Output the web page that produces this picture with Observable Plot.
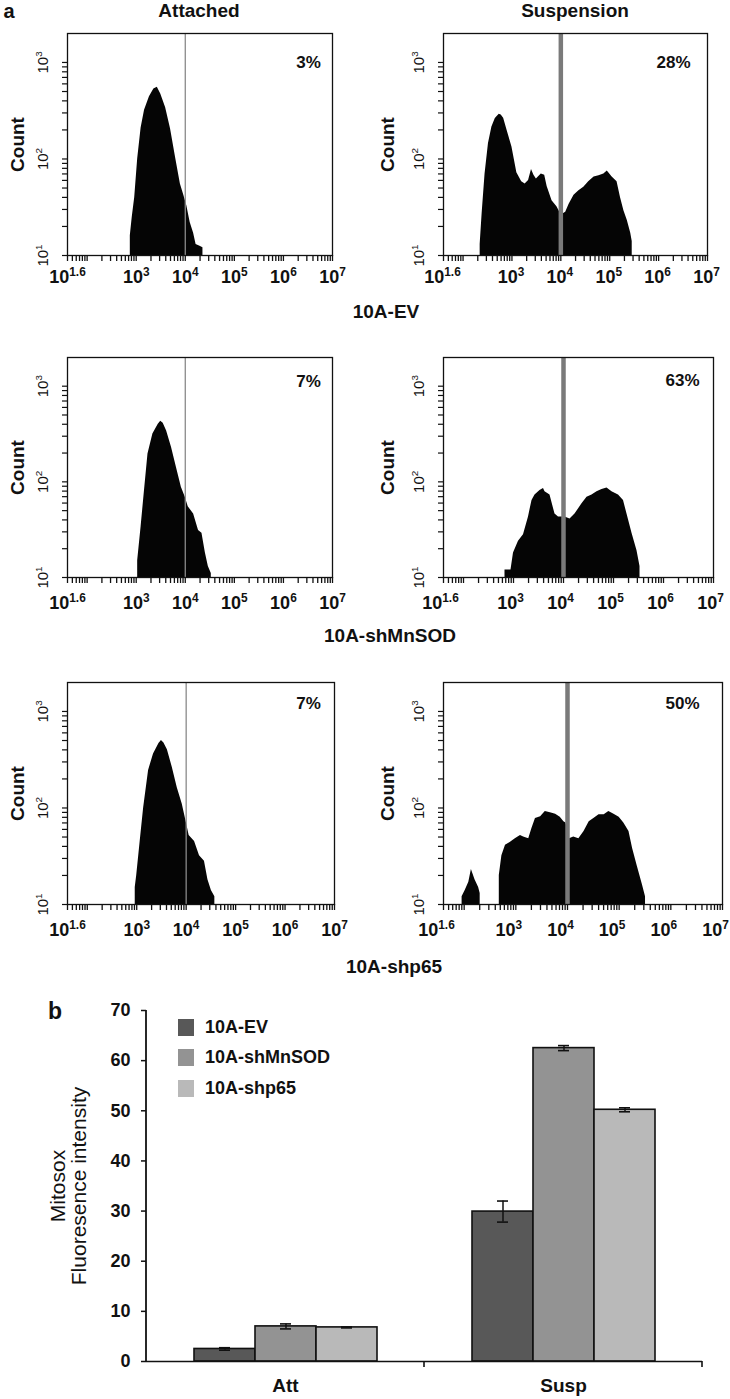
<!DOCTYPE html>
<html>
<head>
<meta charset="utf-8">
<script src="https://cdn.jsdelivr.net/npm/d3@7"></script>
<script src="https://cdn.jsdelivr.net/npm/@observablehq/plot@0.6"></script>
<style>
  html, body { margin: 0; padding: 0; background: #fff; }
  #page { position: relative; width: 730px; height: 1399px; overflow: hidden; font-family: "Liberation Sans", Arial, sans-serif; color: #111; }
  .abs { position: absolute; }
  .lbl { position: absolute; transform: translate(-50%, -50%); white-space: nowrap; font-weight: bold; line-height: 1; }
  .legrow { display: flex; align-items: center; height: 30.5px; font-size: 18px; font-weight: bold; }
  .legrow span.sw { display: inline-block; width: 16px; height: 17px; margin-right: 11px; }
</style>
</head>
<body>
<div id="page"></div>
<script>
// ---------------- DATA ----------------
const colTitles = ["Attached", "Suspension"];
const rowLabels = ["10A-EV", "10A-shMnSOD", "10A-shp65"];
const pctLabels = ["3%", "28%", "7%", "63%", "7%", "50%"];

// x ticks (intensity, log scale) and labels
const xMajorTicks = [Math.pow(10, 1.6), 1e3, 1e4, 1e5, 1e6, 1e7];
const xTickLabels = ["10^1.6", "10^3", "10^4", "10^5", "10^6", "10^7"];
const yMajorTicks = [10, 100, 1000];
const yTickLabels = ["10^1", "10^2", "10^3"];

// Histograms: log10(intensity) and counts
const attEV_logX  = [2.88, 2.88, 2.92, 2.97, 3.03, 3.10, 3.17, 3.27, 3.36, 3.43, 3.50, 3.60, 3.70, 3.80, 3.90, 3.97, 4.03, 4.10, 4.17, 4.22, 4.30, 4.36, 4.36];
const attEV_count = [10, 16, 25, 40, 100, 210, 320, 440, 530, 555, 470, 340, 205, 105, 55, 42, 33, 22, 17, 13, 12.5, 12, 10];

const suspEV_logX  = [2.35, 2.35, 2.39, 2.45, 2.52, 2.59, 2.66, 2.74, 2.78, 2.83, 2.90, 3.00, 3.10, 3.20, 3.27, 3.34, 3.40, 3.45, 3.50, 3.60, 3.67, 3.72, 3.82, 3.92, 3.98, 4.05, 4.10, 4.17, 4.27, 4.37, 4.47, 4.57, 4.68, 4.78, 4.88, 4.95, 5.05, 5.15, 5.22, 5.29, 5.36, 5.43, 5.46, 5.46];
const suspEV_count = [10, 13, 27, 70, 145, 214, 263, 290, 285, 265, 198, 133, 72, 58, 55, 60, 78, 68, 62, 70, 68, 52, 37, 32, 28, 27, 28, 34, 42, 47, 51, 58, 65, 67, 70, 75, 65, 58, 40, 29, 23, 17, 14, 10];

const attSh_logX  = [3.03, 3.03, 3.10, 3.17, 3.24, 3.34, 3.45, 3.50, 3.55, 3.62, 3.72, 3.82, 3.92, 4.00, 4.06, 4.17, 4.27, 4.34, 4.41, 4.47, 4.53, 4.53];
const attSh_count = [10, 15, 34, 82, 195, 316, 400, 430, 410, 340, 228, 141, 88, 69, 55, 46, 31, 29, 18, 13, 11, 10];

const suspSh_logX  = [2.83, 2.83, 2.95, 3.00, 3.10, 3.20, 3.30, 3.37, 3.43, 3.53, 3.60, 3.63, 3.73, 3.83, 3.90, 4.03, 4.13, 4.23, 4.37, 4.47, 4.57, 4.67, 4.77, 4.87, 4.97, 5.10, 5.20, 5.27, 5.37, 5.47, 5.53, 5.53];
const suspSh_count = [10, 12, 12, 18, 24, 28, 43, 64, 73, 81, 85, 79, 73, 46, 43, 43, 41, 46, 59, 69, 73, 79, 83, 86, 79, 73, 64, 46, 29, 19, 13, 10];

const attP65_logX  = [2.97, 2.97, 3.00, 3.07, 3.14, 3.24, 3.34, 3.45, 3.50, 3.55, 3.62, 3.72, 3.82, 3.92, 4.00, 4.06, 4.17, 4.27, 4.37, 4.44, 4.51, 4.58, 4.58];
const attP65_count = [10, 15, 20, 45, 100, 245, 363, 465, 500, 470, 400, 263, 162, 110, 72, 52, 45, 32, 28, 18, 14, 12, 10];

const suspP65_logX  = [1.96, 1.96, 2.02, 2.09, 2.14, 2.21, 2.28, 2.31, 2.31, 2.68, 2.68, 2.73, 2.80, 2.89, 2.99, 3.09, 3.15, 3.25, 3.31, 3.38, 3.48, 3.57, 3.67, 3.77, 3.86, 3.93, 3.97, 4.04, 4.12, 4.22, 4.32, 4.42, 4.51, 4.61, 4.71, 4.80, 4.90, 5.00, 5.09, 5.19, 5.26, 5.35, 5.45, 5.51, 5.51];
const suspP65_count = [10, 12, 14, 17, 23, 18, 15, 13, 10, 10, 20, 32, 41, 44, 48, 52, 50, 48, 61, 78, 81, 92, 89, 86, 80, 72, 70, 48, 50, 48, 57, 72, 78, 85, 85, 92, 86, 80, 70, 57, 38, 25, 16, 12, 10];

// Bar chart (panel b)
const barCategories = ["Att", "Susp"];
const barSeries = ["10A-EV", "10A-shMnSOD", "10A-shp65"];
const barColors = ["#585858", "#939393", "#b9b9b9"];
const evValues = [2.5, 29.9];        const evErrors = [0.25, 2.1];
const shMnSODValues = [7.0, 62.5];   const shMnSODErrors = [0.5, 0.5];
const shp65Values = [6.8, 50.2];     const shp65Errors = [0.1, 0.4];
const barYTicks = [0, 10, 20, 30, 40, 50, 60, 70];

// ---------------- HELPERS ----------------
const FONT = '"Liberation Sans", Arial, Helvetica, sans-serif';
const page = document.getElementById("page");
const SVGNS = "http://www.w3.org/2000/svg";

function supify(root) {
  root.querySelectorAll("text").forEach(t => {
    if (t.querySelector("tspan")) return;
    const s = t.textContent;
    const m = /^(.*?)\^(.+)$/.exec(s);
    if (!m) return;
    t.textContent = "";
    const a = document.createElementNS(SVGNS, "tspan");
    a.textContent = m[1];
    t.appendChild(a);
    const b = document.createElementNS(SVGNS, "tspan");
    b.textContent = m[2];
    b.setAttribute("font-size", "0.66em");
    b.setAttribute("dy", "-0.62em");
    t.appendChild(b);
  });
}

function addLabel(text, cx, cy, size, weight) {
  const d = document.createElement("div");
  d.className = "lbl";
  d.textContent = text;
  d.style.left = cx + "px";
  d.style.top = cy + "px";
  d.style.fontSize = size + "px";
  d.style.fontWeight = weight || "bold";
  page.appendChild(d);
}

// minor log ticks
const xAllTicks = [...xMajorTicks];
for (let n = 1; n <= 6; n++) for (let k = 1; k <= 9; k++) {
  const v = k * Math.pow(10, n);
  if (v > 45 && v < 1e7 && !xMajorTicks.includes(v)) xAllTicks.push(v);
}
const yAllTicks = [];
for (let n = 1; n <= 3; n++) for (let k = 1; k <= 9; k++) {
  const v = k * Math.pow(10, n);
  if (v <= 1000) yAllTicks.push(v);
}

// ---------------- HISTOGRAM PANELS ----------------
const panels = [
  {lx: attEV_logX,  c: attEV_count,  pct: pctLabels[0], L: 67,  R: 332, T: 33,  B: 255, col: 0, pdx: -24, pdy: 29, ldy: 22, ldx: 0},
  {lx: suspEV_logX, c: suspEV_count, pct: pctLabels[1], L: 443, R: 707, T: 33,  B: 255, col: 1, pdx: -34, pdy: 29, ldy: 22, ldx: -1},
  {lx: attSh_logX,  c: attSh_count,  pct: pctLabels[2], L: 67,  R: 332, T: 357, B: 577, col: 0, pdx: -24, pdy: 24, ldy: 26, ldx: 0},
  {lx: suspSh_logX, c: suspSh_count, pct: pctLabels[3], L: 443, R: 713, T: 357, B: 577, col: 1, pdx: -31, pdy: 23, ldy: 26, ldx: -3},
  {lx: attP65_logX, c: attP65_count, pct: pctLabels[4], L: 67,  R: 334, T: 682, B: 904, col: 0, pdx: -26, pdy: 21, ldy: 26, ldx: 0},
  {lx: suspP65_logX,c: suspP65_count,pct: pctLabels[5], L: 443, R: 722, T: 682, B: 904, col: 1, pdx: -40, pdy: 21, ldy: 26, ldx: -7}
];

panels.forEach(p => {
  const mL = p.col === 0 ? 64 : 72, mR = 14, mT = 8, mB = 44;
  const width = (p.R - p.L) + mL + mR;
  const height = (p.B - p.T) + mT + mB;
  const data = p.lx.map((v, i) => ({v: Math.pow(10, v), c: p.c[i]}));
  const countDx = p.col === 0 ? -49.5 : -56;
  const svg = Plot.plot({
    width, height,
    marginLeft: mL, marginRight: mR, marginTop: mT, marginBottom: mB,
    x: {type: "log", domain: [Math.pow(10, 1.6), 1e7]},
    y: {type: "log", domain: [10, Math.pow(10, 3.3)]},
    style: {fontFamily: FONT, background: "transparent", overflow: "visible", color: "#111"},
    marks: [
      Plot.areaY(data, {x: "v", y1: 10, y2: "c", fill: "#050505", clip: true}),
      Plot.ruleX([1e4], {stroke: p.col === 0 ? "#8a8a8a" : "#7a7a7a", strokeWidth: p.col === 0 ? 1.3 : 4.5}),
      Plot.frame({stroke: "#111", strokeWidth: 1.3}),
      Plot.axisX({ticks: xAllTicks, tickFormat: () => "", tickSize: 6, strokeWidth: 1.3, label: null}),
      Plot.text(xMajorTicks, {x: d => d, text: (d, i) => xTickLabels[i], frameAnchor: "bottom", dy: p.ldy, dx: p.ldx, textAnchor: "middle", lineAnchor: "middle", fontSize: 18, fontWeight: "bold"}),
      Plot.axisY({ticks: yAllTicks, tickFormat: () => "", tickSize: 5, strokeWidth: 1.2, label: null}),
      Plot.text(yMajorTicks, {y: d => d, text: (d, i) => yTickLabels[i], frameAnchor: "left", dx: -24, rotate: -90, textAnchor: "middle", lineAnchor: "middle", fontSize: 15}),
      Plot.text(["Count"], {frameAnchor: "left", dx: countDx, rotate: -90, textAnchor: "middle", lineAnchor: "middle", fontSize: 19, fontWeight: "bold"}),
      Plot.text([p.pct], {frameAnchor: "top-right", dx: p.pdx, dy: p.pdy, textAnchor: "middle", lineAnchor: "middle", fontSize: 17, fontWeight: "bold"})
    ]
  });
  supify(svg);
  svg.style.position = "absolute";
  svg.style.left = (p.L - mL) + "px";
  svg.style.top = (p.T - mT) + "px";
  page.appendChild(svg);
});

// titles & row labels
addLabel("a", 9, 11, 20);
addLabel(colTitles[0], 199, 10, 19);
addLabel(colTitles[1], 575, 10, 19);
addLabel(rowLabels[0], 386, 311, 19);
addLabel(rowLabels[1], 390, 635, 19);
addLabel(rowLabels[2], 394, 966, 19);
addLabel("b", 55, 1011, 23);

// ---------------- BAR CHART ----------------
const barValues = [evValues, shMnSODValues, shp65Values];
const barErrors = [evErrors, shMnSODErrors, shp65Errors];
const barData = [];
barCategories.forEach((cat, ci) => barSeries.forEach((s, si) => {
  barData.push({cat, series: s, value: barValues[si][ci], err: barErrors[si][ci]});
}));

const bTop = 990, bML = 145, bMR = 28, bMT = 20, bMB = 38;
const bar = Plot.plot({
  width: 730, height: 409,
  marginLeft: bML, marginRight: bMR, marginTop: bMT, marginBottom: bMB,
  fx: {domain: barCategories, padding: 0, label: null},
  x: {domain: barSeries, paddingInner: 0, paddingOuter: 0.75, axis: null},
  y: {domain: [0, 70]},
  color: {domain: barSeries, range: barColors},
  style: {fontFamily: FONT, background: "transparent", overflow: "visible", color: "#111"},
  marks: [
    Plot.barY(barData, {fx: "cat", x: "series", y: "value", fill: "series", stroke: "#111", strokeWidth: 1.6}),
    Plot.ruleX(barData, {fx: "cat", x: "series", y1: d => d.value - d.err, y2: d => d.value + d.err, stroke: "#111", strokeWidth: 1.5}),
    Plot.tickY(barData, {fx: "cat", x: "series", y: d => d.value + d.err, insetLeft: 25, insetRight: 25, stroke: "#111", strokeWidth: 1.6}),
    Plot.tickY(barData, {fx: "cat", x: "series", y: d => d.value - d.err, insetLeft: 25, insetRight: 25, stroke: "#111", strokeWidth: 1.6}),
    Plot.ruleY([0], {stroke: "#111", strokeWidth: 1.6}),
    Plot.axisY({ticks: barYTicks, tickSize: 5, tickPadding: 11, fontSize: 18, fontWeight: "bold", strokeWidth: 1.5, label: null}),
    Plot.axisFx({anchor: "bottom", tickSize: 0, tickPadding: 17, fontSize: 19, fontWeight: "bold", label: null}),
    Plot.text([barCategories[0]], {fx: d => d, text: () => "Mitosox\nFluoresence intensity", frameAnchor: "left", dx: -77.5, rotate: -90, textAnchor: "middle", lineAnchor: "middle", fontSize: 21, lineHeight: 1.0})
  ]
});
// y-axis line and boundary ticks on the category axis (from the plot's scales)
try {
  const fxS = bar.scale("fx"), yS = bar.scale("y");
  const y0 = yS.apply(0), y70 = yS.apply(70);
  const step = fxS.bandwidth != null ? fxS.bandwidth : (730 - bML - bMR) / barCategories.length;
  const xl = fxS.apply(barCategories[0]);
  d3.select(bar).append("line").attr("x1", xl).attr("x2", xl).attr("y1", y70).attr("y2", y0 + 1)
    .attr("stroke", "#111").attr("stroke-width", 1.8);
  barCategories.forEach(cat => {
    const x = fxS.apply(cat) + step;
    d3.select(bar).append("line").attr("x1", x).attr("x2", x).attr("y1", y0).attr("y2", y0 + 6)
      .attr("stroke", "#111").attr("stroke-width", 1.6);
  });
} catch (e) { console.log(e); }
bar.style.position = "absolute";
bar.style.left = "0px";
bar.style.top = bTop + "px";
page.appendChild(bar);

// legend
const leg = document.createElement("div");
leg.className = "abs";
leg.style.left = "178px";
leg.style.top = (1027 - 15.25) + "px";
barSeries.forEach((s, i) => {
  const r = document.createElement("div");
  r.className = "legrow";
  const sw = document.createElement("span");
  sw.className = "sw";
  sw.style.background = barColors[i];
  r.appendChild(sw);
  const t = document.createElement("span");
  t.textContent = s;
  r.appendChild(t);
  leg.appendChild(r);
});
page.appendChild(leg);
</script>
</body>
</html>
